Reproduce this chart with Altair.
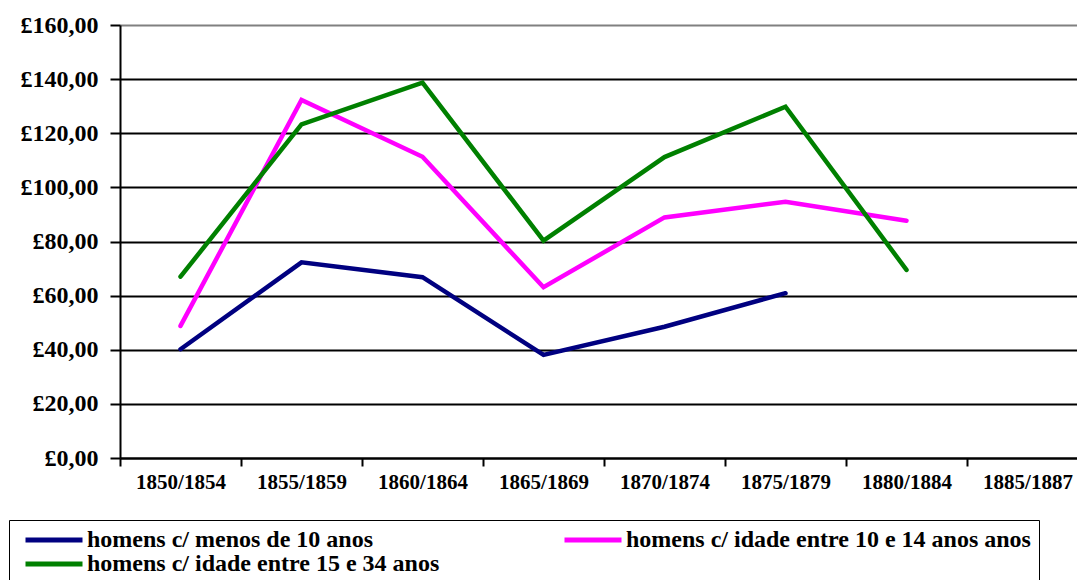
import altair as alt
import pandas as pd

periods = ["1850/1854", "1855/1859", "1860/1864", "1865/1869",
           "1870/1874", "1875/1879", "1880/1884", "1885/1887"]
s_navy = "homens c/ menos de 10 anos"
s_magenta = "homens c/ idade entre 10 e 14 anos anos"
s_green = "homens c/ idade entre 15 e 34 anos"
navy_vals = [40.2, 72.3, 66.8, 38.1, 48.5, 60.9, None, None]
magenta_vals = [48.8, 132.3, 111.3, 63.1, 88.9, 94.7, 87.7, None]
green_vals = [67.0, 123.3, 138.7, 80.3, 111.2, 129.8, 69.5, None]
# legend is filled column by column: navy, green | magenta
legend_order = [s_navy, s_green, s_magenta]
legend_colors = ["#000080", "#008000", "#FF00FF"]
y_ticks = [0, 20, 40, 60, 80, 100, 120, 140, 160]

rows = []
for name, vals in [(s_navy, navy_vals), (s_magenta, magenta_vals), (s_green, green_vals)]:
    for p, v in zip(periods, vals):
        if v is not None:
            rows.append({"periodo": p, "valor": v, "serie": name})
df = pd.DataFrame(rows)

FONT = "Liberation Serif"

chart = alt.Chart(df).mark_line(strokeWidth=4.5, strokeCap="round").encode(
    x=alt.X("periodo:O",
            scale=alt.Scale(type="band", domain=periods, paddingInner=0, paddingOuter=0),
            axis=alt.Axis(title=None, labelAngle=0, tickBand="extent", tickSize=8,
                          tickColor="black", tickWidth=2, domainColor="black", domainWidth=2,
                          labelFont=FONT, labelFontSize=21, labelFontWeight="bold",
                          labelColor="black", labelPadding=5, grid=False)),
    y=alt.Y("valor:Q",
            scale=alt.Scale(domain=[0, 160], nice=False, zero=True),
            axis=alt.Axis(title=None, values=y_ticks,
                          labelExpr="'£' + replace(format(datum.value, '.2f'), '.', ',')",
                          labelFont=FONT, labelFontSize=24, labelFontWeight="bold",
                          labelColor="black", labelPadding=12, tickSize=10,
                          tickColor="black", tickWidth=2, domainColor="black", domainWidth=2,
                          grid=True,
                          gridColor=alt.condition("datum.value == 160", alt.value("#808080"), alt.value("black")),
                          gridWidth=2)),
    color=alt.Color("serie:N", sort=legend_order,
                    scale=alt.Scale(domain=legend_order, range=legend_colors),
                    legend=alt.Legend(title=None, orient="none", legendX=-111, legendY=495,
                                      columns=2, columnPadding=116, rowPadding=0, clipHeight=24,
                                      symbolType="stroke", symbolSize=3249, symbolStrokeWidth=5,
                                      symbolOffset=6, padding=8, labelOffset=2,
                                      labelFont=FONT, labelFontSize=24, labelFontWeight="bold",
                                      labelColor="black", labelLimit=0,
                                      strokeColor="black", fillColor="white")),
    detail="serie:N",
).properties(
    width=968, height=433,
    padding={"left": 112, "top": 17, "right": -11, "bottom": 150},
    autosize=alt.AutoSizeParams(type="none"),
).configure_view(stroke="#808080", strokeWidth=2).configure_legend(strokeWidth=2).configure(background="white")

chart.save("out.html", embed_options={"renderer": "svg", "actions": False})
